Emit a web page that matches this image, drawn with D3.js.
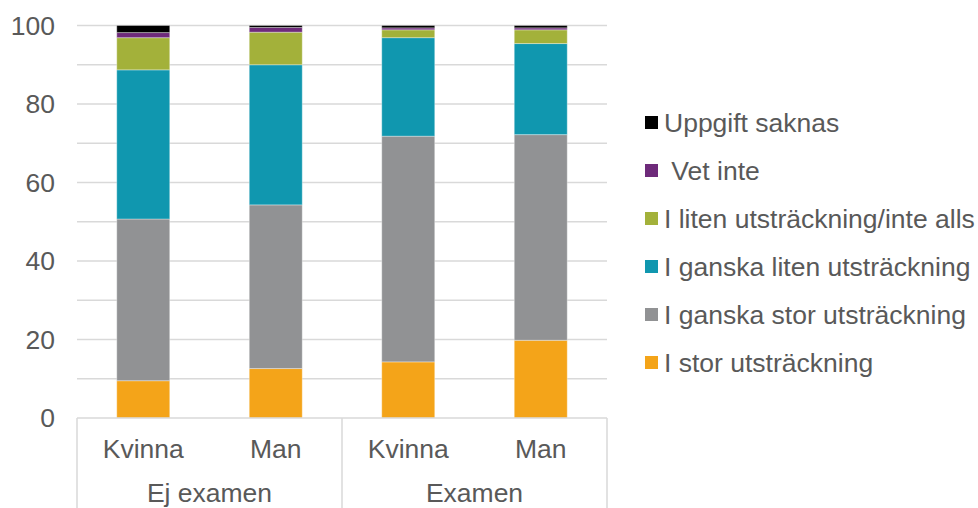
<!DOCTYPE html>
<html><head><meta charset="utf-8">
<script src="https://cdn.jsdelivr.net/npm/d3@7"></script>
<style>
html,body{margin:0;padding:0;background:#fff;}
svg{display:block;font-family:"Liberation Sans",Arial,sans-serif;}
</style></head>
<body>
<svg id="chart" width="978" height="508"></svg>
<script>
const categories = ["Kvinna","Man","Kvinna","Man"];
const groups = ["Ej examen","Examen"];
const seriesNames = ["I stor utsträckning","I ganska stor utsträckning","I ganska liten utsträckning","I liten utsträckning/inte alls"," Vet inte","Uppgift saknas"];
const storUt = [9.5, 12.6, 14.3, 19.8];
const gStorUt = [41.2, 41.7, 57.5, 52.4];
const gLitenUt = [38.0, 35.7, 25.1, 23.2];
const litenUt = [8.2, 8.3, 2.0, 3.5];
const vetInte = [1.3, 1.2, 0.5, 0.5];
const saknas = [1.8, 0.5, 0.6, 0.6];
const yTicks = [0,20,40,60,80,100];
const colors = ["#F4A419","#919294","#1097AF","#A3B13A","#6E2A7A","#000000"];

const seriesValues = [storUt,gStorUt,gLitenUt,litenUt,vetInte,saknas];
const rows = categories.map((c,i)=>{
  const r = {idx:i};
  seriesNames.forEach((s,k)=>r[s]=seriesValues[k][i]);
  return r;
});

const svg = d3.select("#chart");
const x = d3.scaleBand().domain(d3.range(categories.length)).range([77,607]).paddingInner(0.6).paddingOuter(0.3);
const y = d3.scaleLinear().domain([0,100]).range([418,25.5]);
const txt = "#595959", grid = "#d9d9d9";
const fs = 26.5;

// gridlines
svg.append("g").selectAll("line").data(d3.range(10,101,10)).join("line")
  .attr("x1",77).attr("x2",607).attr("y1",d=>y(d)).attr("y2",d=>y(d))
  .attr("stroke",grid).attr("stroke-width",1.5);

// y labels
svg.append("g").selectAll("text").data(yTicks).join("text")
  .attr("x",55).attr("y",d=>y(d)).attr("dy","0.35em").attr("text-anchor","end")
  .attr("font-size",fs).attr("fill",txt).text(d=>d);

// bars
const stack = d3.stack().keys(seriesNames)(rows);
svg.append("g").selectAll("g").data(stack).join("g")
  .attr("fill",(d,i)=>colors[i])
  .selectAll("rect").data(d=>d).join("rect")
  .attr("x",d=>x(d.data.idx)).attr("width",x.bandwidth())
  .attr("y",d=>y(d[1])).attr("height",d=>y(d[0])-y(d[1]))
  .attr("stroke","#ffffff").attr("stroke-opacity",0.35).attr("stroke-width",1);

// x axis frame
const ax = svg.append("g");
ax.append("line").attr("x1",77).attr("x2",607).attr("y1",y(0)).attr("y2",y(0)).attr("stroke",grid).attr("stroke-width",1.5);
[77,342,607].forEach(v=>{
  ax.append("line").attr("x1",v).attr("x2",v).attr("y1",y(0)).attr("y2",508).attr("stroke",grid).attr("stroke-width",1.5);
});
ax.selectAll("text.cat").data(categories).join("text").attr("class","cat")
  .attr("x",(d,i)=>x(i)+x.bandwidth()/2).attr("y",458).attr("text-anchor","middle")
  .attr("font-size",fs).attr("fill",txt).text(d=>d);
ax.selectAll("text.grp").data(groups).join("text").attr("class","grp")
  .attr("x",(d,i)=>(x(i*2)+x(i*2+1)+x.bandwidth())/2).attr("y",502).attr("text-anchor","middle")
  .attr("font-size",fs).attr("fill",txt).text(d=>d);

// legend
const legendOrder = d3.range(seriesNames.length).reverse();
const lg = svg.append("g").selectAll("g").data(legendOrder).join("g")
  .attr("transform",(d,i)=>`translate(645,${122.5+i*48})`);
lg.append("rect").attr("x",0).attr("y",-6.5).attr("width",13).attr("height",13).attr("fill",d=>colors[d]);
lg.append("text").attr("x",19).attr("y",0).attr("dy","0.35em").attr("font-size",fs).attr("fill",txt)
  .style("white-space","pre").text(d=>seriesNames[d]);
</script>
</body></html>
